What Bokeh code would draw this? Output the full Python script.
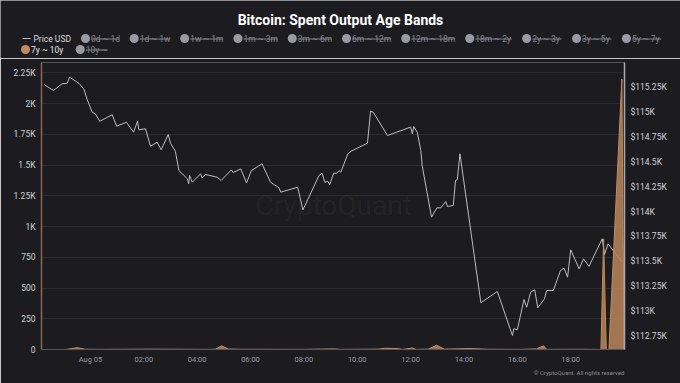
import numpy as np
import pandas as pd
from bokeh.plotting import figure
from bokeh.models import Range1d, LinearAxis, FixedTicker, Label, Title, ColumnDataSource
from bokeh.embed import file_html
from bokeh.resources import INLINE
from bokeh.core.properties import value

# ---------------- data ----------------
TITLE = "Bitcoin: Spent Output Age Bands"
legend_hidden_row1 = ["0d ~ 1d", "1d ~ 1w", "1w ~ 1m", "1m ~ 3m", "3m ~ 6m", "6m ~ 12m",
                      "12m ~ 18m", "18m ~ 2y", "2y ~ 3y", "3y ~ 5y", "5y ~ 7y"]
legend_active = "7y ~ 10y"
legend_hidden_row2 = ["10y ~"]
price_name = "Price USD"

price_time = [
    "2025-08-04 22:16", "2025-08-04 22:37", "2025-08-04 22:56", "2025-08-04 23:08", "2025-08-04 23:13",
    "2025-08-04 23:34", "2025-08-04 23:45", "2025-08-04 23:53", "2025-08-05 00:04", "2025-08-05 00:11",
    "2025-08-05 00:21", "2025-08-05 00:49", "2025-08-05 00:59", "2025-08-05 01:21", "2025-08-05 01:37",
    "2025-08-05 01:46", "2025-08-05 01:49", "2025-08-05 02:04", "2025-08-05 02:15", "2025-08-05 02:30",
    "2025-08-05 02:39", "2025-08-05 02:55", "2025-08-05 03:00", "2025-08-05 03:11", "2025-08-05 03:19",
    "2025-08-05 03:38", "2025-08-05 03:41", "2025-08-05 03:43", "2025-08-05 03:49", "2025-08-05 04:08",
    "2025-08-05 04:11", "2025-08-05 04:19", "2025-08-05 04:45", "2025-08-05 04:54", "2025-08-05 05:17",
    "2025-08-05 05:21", "2025-08-05 05:38", "2025-08-05 05:51", "2025-08-05 06:02", "2025-08-05 06:26",
    "2025-08-05 06:45", "2025-08-05 07:04", "2025-08-05 07:08", "2025-08-05 07:46", "2025-08-05 07:58",
    "2025-08-05 08:34", "2025-08-05 08:41", "2025-08-05 08:47", "2025-08-05 08:54", "2025-08-05 08:58",
    "2025-08-05 09:07", "2025-08-05 09:14", "2025-08-05 09:19", "2025-08-05 09:23", "2025-08-05 09:39",
    "2025-08-05 09:45", "2025-08-05 10:23", "2025-08-05 10:30", "2025-08-05 10:36", "2025-08-05 11:08",
    "2025-08-05 12:00", "2025-08-05 12:04", "2025-08-05 12:07", "2025-08-05 12:15", "2025-08-05 12:23",
    "2025-08-05 12:26", "2025-08-05 12:47", "2025-08-05 12:59", "2025-08-05 13:08", "2025-08-05 13:19",
    "2025-08-05 13:23", "2025-08-05 13:36", "2025-08-05 13:41", "2025-08-05 13:45", "2025-08-05 13:51",
    "2025-08-05 14:38", "2025-08-05 15:15", "2025-08-05 15:49", "2025-08-05 15:52", "2025-08-05 16:00",
    "2025-08-05 16:15", "2025-08-05 16:21", "2025-08-05 16:30", "2025-08-05 16:39", "2025-08-05 16:46",
    "2025-08-05 17:01", "2025-08-05 17:06", "2025-08-05 17:21", "2025-08-05 17:37", "2025-08-05 17:45",
    "2025-08-05 17:53", "2025-08-05 18:00", "2025-08-05 18:19", "2025-08-05 18:29", "2025-08-05 18:41",
    "2025-08-05 19:11", "2025-08-05 19:16", "2025-08-05 19:24", "2025-08-05 19:54",
]
price_usd = [
    115280, 115220, 115287, 115293, 115354, 115293, 115237, 115126, 115001, 114985,
    114910, 114975, 114860, 114900, 114799, 114910, 114824, 114834, 114658, 114699,
    114622, 114776, 114689, 114608, 114413, 114330, 114279, 114363, 114295, 114380,
    114340, 114373, 114346, 114313, 114420, 114393, 114430, 114289, 114413, 114481,
    114295, 114239, 114195, 114245, 114017, 114363, 114386, 114295, 114305, 114269,
    114386, 114386, 114413, 114396, 114582, 114605, 114689, 115011, 115001, 114766,
    114850, 114783, 114857, 114799, 114615, 114464, 113943, 114037, 114037, 114101,
    114050, 114061, 114313, 114320, 114582, 113080, 113194, 112750, 112818, 112808,
    113113, 113035, 113187, 113211, 113029, 113120, 113204, 113204, 113405, 113429,
    113338, 113614, 113422, 113523, 113446, 113725, 113567, 113674, 113499,
]

band_time = [
    "2025-08-04 22:16", "2025-08-04 23:04", "2025-08-04 23:30", "2025-08-04 23:49", "2025-08-05 00:22",
    "2025-08-05 02:15", "2025-08-05 04:30", "2025-08-05 04:41", "2025-08-05 04:55", "2025-08-05 05:10",
    "2025-08-05 05:37", "2025-08-05 07:52", "2025-08-05 09:09", "2025-08-05 09:22", "2025-08-05 10:46",
    "2025-08-05 11:04", "2025-08-05 11:31", "2025-08-05 11:42", "2025-08-05 12:04", "2025-08-05 12:13",
    "2025-08-05 12:40", "2025-08-05 12:58", "2025-08-05 13:16", "2025-08-05 14:15", "2025-08-05 14:53",
    "2025-08-05 16:07", "2025-08-05 16:43", "2025-08-05 16:59", "2025-08-05 17:06", "2025-08-05 18:22",
    "2025-08-05 19:08", "2025-08-05 19:14", "2025-08-05 19:20", "2025-08-05 19:26", "2025-08-05 19:55",
    "2025-08-05 20:00",
]
band_7y_10y = [
    0, 0, 15, 2, 1,
    3, 1, 3, 30, 4,
    2, 1, 5, 1, 3,
    10, 8, 1, 12, 1,
    3, 35, 3, 8, 2,
    1, 5, 30, 1, 2,
    0, 900, 0, 0, 2200,
    0,
]

left_ticks = [0, 250, 500, 750, 1000, 1250, 1500, 1750, 2000, 2250]
left_labels = ["0", "250", "500", "750", "1K", "1.25K", "1.5K", "1.75K", "2K", "2.25K"]
right_ticks = [112750, 113000, 113250, 113500, 113750, 114000, 114250, 114500, 114750, 115000, 115250]
right_labels = ["$112.75K", "$113K", "$113.25K", "$113.5K", "$113.75K", "$114K",
                "$114.25K", "$114.5K", "$114.75K", "$115K", "$115.25K"]
x_tick_times = ["2025-08-05 00:00", "2025-08-05 02:00", "2025-08-05 04:00", "2025-08-05 06:00",
                "2025-08-05 08:00", "2025-08-05 10:00", "2025-08-05 12:00", "2025-08-05 14:00",
                "2025-08-05 16:00", "2025-08-05 18:00"]
x_tick_labels = ["Aug 05", "02:00", "04:00", "06:00", "08:00", "10:00", "12:00", "14:00", "16:00", "18:00"]
x_start, x_end = "2025-08-04 22:10", "2025-08-05 20:01"
left_range = (0, 2335)
right_range = (112609, 115502)

# ---------------- helpers ----------------
def to_ms(strings):
    return (pd.to_datetime(pd.Series(strings)).astype("int64") // 10**6).astype("int64").tolist()

BG = "#1c1c20"
FONT = "Roboto"
W = 680
HDR_H = 58
MAIN_H = 325

# ---------------- header (title + legend) ----------------
hdr = figure(width=W, height=HDR_H, x_range=Range1d(0, W), y_range=Range1d(HDR_H, 0),
             toolbar_location=None, output_backend="svg",
             min_border=0, min_border_left=0, min_border_right=0, min_border_top=0, min_border_bottom=0,
             x_axis_location=None, y_axis_location=None,
             background_fill_color=BG, border_fill_color=BG, outline_line_color=None)
hdr.grid.visible = False

hdr.text(x=[W / 2], y=[19], text=[TITLE], text_align="center", text_baseline="middle",
         text_font=value(FONT), text_font_style="bold", text_font_size="14px", text_color="#ffffff")

CW = {"0": .572, "1": .572, "2": .572, "3": .572, "5": .572, "6": .572, "7": .572, "8": .572,
      "d": .55, "w": .76, "m": .88, "y": .62, " ": .25, "~": .69}
LFS = 8.5

def tw(s):
    return sum(CW.get(c, .55) for c in s) * LFS

def legend_row(labels, cx, y, hidden=True, circ_color="#9a9aa2", txt_color="#85858d"):
    for lab in labels:
        hdr.scatter([cx], [y], size=9, color=circ_color, line_color=None)
        tx = cx + 5.5
        hdr.text([tx], [y], text=[lab], text_baseline="middle", text_font=value(FONT),
                 text_font_size=f"{LFS}px", text_color=txt_color)
        w = tw(lab)
        if hidden:
            hdr.segment([tx], [y + 0.5], [tx + w - 1], [y + 0.5], line_color=txt_color, line_width=1)
        cx = tx + w + 14
    return cx

row1, row2 = 38, 49
hdr.segment([22], [row1], [30], [row1], line_color="#bdbdc2", line_width=1)
hdr.text([33], [row1], text=[price_name], text_baseline="middle", text_font=value(FONT),
         text_font_size=f"{LFS}px", text_color="#d8d8dc")
legend_row(legend_hidden_row1, 85, row1)
nx = legend_row([legend_active], 25, row2, hidden=False, circ_color="#c08a60", txt_color="#e6e6ea")
legend_row(legend_hidden_row2, nx, row2)

# ---------------- main chart ----------------
p = figure(width=W, height=MAIN_H, x_axis_type="datetime",
           x_range=Range1d(to_ms([x_start])[0], to_ms([x_end])[0]),
           y_range=Range1d(*left_range),
           toolbar_location=None, output_backend="svg",
           min_border_left=41, min_border_right=56, min_border_top=4, min_border_bottom=34,
           background_fill_color=BG, border_fill_color=BG, outline_line_color=None)
p.extra_y_ranges = {"price": Range1d(*right_range)}

# watermark
p.add_layout(Label(x=to_ms(["2025-08-05 09:07"])[0], y=1170, text="CryptoQuant",
                   text_font=FONT, text_font_size="28px", text_color="#ffffff",
                   text_alpha=0.05, text_align="center", text_baseline="middle"))

price_src = ColumnDataSource(dict(t=to_ms(price_time), v=price_usd))
band_src = ColumnDataSource(dict(t=to_ms(band_time), v=band_7y_10y))

p.line("t", "v", source=price_src, y_range_name="price", line_color="#bcbcc0", line_width=1)
p.varea(x="t", y1=0, y2="v", source=band_src, fill_color="#b5835a", fill_alpha=0.88)
p.line("t", "v", source=band_src, line_color="#c08a60", line_width=1)

# axes
xt = to_ms(x_tick_times)
xa = p.xaxis[0]
xa.ticker = FixedTicker(ticks=xt)
xa.major_label_overrides = {int(k): v for k, v in zip(xt, x_tick_labels)}
xa.axis_line_color = "#55555b"
xa.major_tick_line_color = None
xa.minor_tick_line_color = None
xa.major_tick_out = 0
xa.major_tick_in = 0
xa.major_label_standoff = 5
xa.major_label_text_font = FONT
xa.major_label_text_font_size = "7.5px"
xa.major_label_text_color = "#9a9aa0"

ya = p.yaxis[0]
ya.ticker = FixedTicker(ticks=left_ticks)
ya.major_label_overrides = {k: v for k, v in zip(left_ticks, left_labels)}
ya.axis_line_color = "#8a6650"
ya.axis_line_width = 1.5
ya.major_tick_line_color = None
ya.minor_tick_line_color = None
ya.major_tick_out = 0
ya.major_tick_in = 0
ya.major_label_standoff = 6
ya.major_label_text_font = FONT
ya.major_label_text_font_size = "8.5px"
ya.major_label_text_color = "#d0d0d4"

ra = LinearAxis(y_range_name="price", ticker=FixedTicker(ticks=right_ticks))
ra.major_label_overrides = {k: v for k, v in zip(right_ticks, right_labels)}
ra.axis_line_color = "#a8a8ae"
ra.axis_line_width = 1.5
ra.major_tick_line_color = None
ra.minor_tick_line_color = None
ra.major_tick_out = 0
ra.major_tick_in = 0
ra.major_label_standoff = 6
ra.major_label_text_font = FONT
ra.major_label_text_font_size = "8.5px"
ra.major_label_text_color = "#d0d0d4"
p.add_layout(ra, "right")

p.xgrid.visible = False
p.ygrid.grid_line_color = "#2a2a30"

p.add_layout(Title(text="\u00a9 CryptoQuant. All rights reserved", align="right",
                   text_font=FONT, text_font_size="6px", text_color="#8a8a90",
                   text_font_style="normal", standoff=0), "below")

open("out.html", "w").write(file_html([hdr, p], INLINE))
